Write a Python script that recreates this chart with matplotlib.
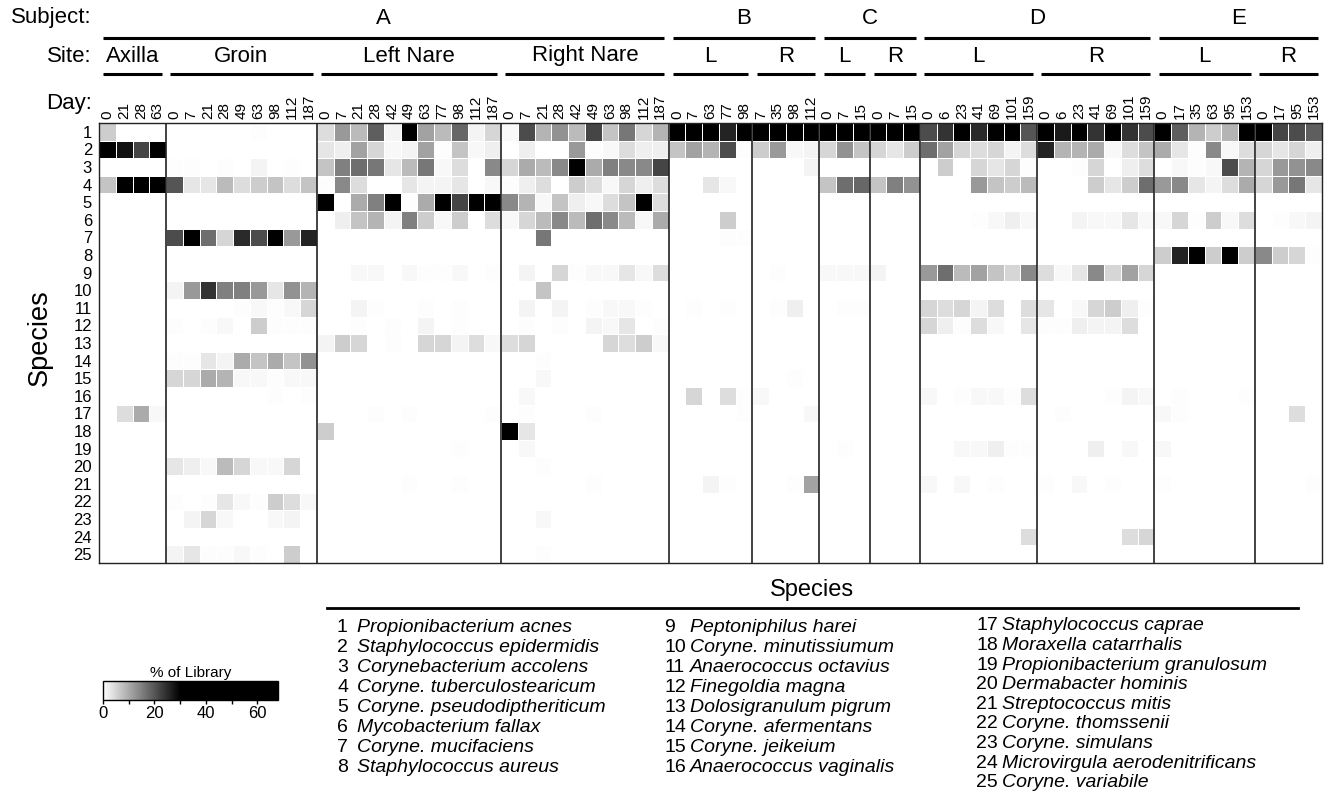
import numpy as np
import matplotlib
matplotlib.use("Agg")
import matplotlib.pyplot as plt
from matplotlib.colors import LinearSegmentedColormap
from matplotlib.lines import Line2D
import matplotlib.transforms as mtransforms

plt.rcParams['font.family'] = ['Liberation Sans', 'DejaVu Sans']

# sampling days for every subject/site block
a_axilla_days = [0, 21, 28, 63]
a_groin_days = [0, 7, 21, 28, 49, 63, 98, 112, 187]
a_lnare_days = [0, 7, 21, 28, 42, 49, 63, 77, 98, 112, 187]
a_rnare_days = [0, 7, 21, 28, 42, 49, 63, 98, 112, 187]
b_l_days = [0, 7, 63, 77, 98]
b_r_days = [7, 35, 98, 112]
c_l_days = [0, 7, 15]
c_r_days = [0, 7, 15]
d_l_days = [0, 6, 23, 41, 69, 101, 159]
d_r_days = [0, 6, 23, 41, 69, 101, 159]
e_l_days = [0, 17, 35, 63, 95, 153]
e_r_days = [0, 17, 95, 153]

# % of library per species (key = species number), one value per day
a_axilla = {
    1: [6, 0, 0, 0],
    2: [35, 28, 22, 35],
    4: [7, 40, 40, 40],
    17: [0, 4, 10, 1],
}
a_groin = {
    1: [0, 0, 0, 0, 0, 0.5, 0, 0, 0],
    3: [0.5, 0.5, 0, 0.5, 0, 1.5, 0, 0.5, 0],
    4: [20, 3, 3, 8, 4, 6, 7, 4, 7],
    7: [21, 40, 17, 5, 25, 21, 40, 12, 26],
    10: [1.5, 12, 24, 15, 15, 12, 3, 13, 9],
    11: [0, 0, 0, 0, 0.5, 1, 0.5, 1, 5],
    12: [0.5, 0, 0.5, 1, 0, 6, 0.5, 0.5, 0.5],
    14: [0.3, 0.3, 3, 1.5, 10, 7, 10, 7, 13],
    15: [5, 5, 10, 9, 1, 1, 0.5, 1, 1],
    16: [0, 0, 0, 0, 0, 0, 0.3, 0, 0.3],
    20: [3, 2, 1, 8, 5, 1, 1, 5, 0],
    22: [0.3, 0, 0.5, 3, 1, 0.5, 6, 4, 1],
    23: [0, 1.5, 5, 1, 0, 0, 1, 1.5, 0],
    25: [1.5, 3, 0.5, 0.5, 1, 0.5, 0, 6, 0],
}
a_lnare = {
    1: [4, 12, 8, 19, 1.5, 40, 11, 8, 18, 1.5, 5],
    2: [3, 2, 11, 5, 1, 1.5, 11, 0.5, 7, 1, 2],
    3: [7, 15, 17, 16, 3, 8, 16, 1, 4, 0, 14],
    4: [0.5, 14, 4, 0, 0, 3, 1.5, 1.5, 3, 0, 1],
    5: [40, 0, 10, 15, 40, 0.5, 10, 40, 22, 40, 40],
    6: [0, 2, 7, 9, 1.5, 15, 6, 1, 6, 0, 4],
    9: [0, 0, 1, 1, 0, 1, 0.5, 0.5, 1, 0, 0.5],
    11: [0, 0, 1.5, 0.3, 0, 0, 0.5, 0, 0.5, 0, 0],
    12: [0, 0, 0.5, 0, 0.5, 0, 1.5, 0, 0.5, 0, 0],
    13: [1.5, 6, 5, 0, 0.5, 0, 5, 5, 1.5, 4, 1],
    17: [0, 0, 0, 0.3, 0, 0.3, 0, 0, 0, 0, 0.3],
    18: [6, 0, 0, 0, 0, 0, 0, 0, 0, 0, 0],
    19: [0, 0, 0, 0, 0, 0, 0, 0, 0.3, 0, 0],
    21: [0, 0, 0, 0, 0, 0.5, 0, 0, 0.5, 0, 0],
}
a_rnare = {
    1: [1, 21, 9, 13, 8, 22, 7, 16, 5, 9],
    2: [0, 2, 0, 0, 12, 0.5, 1, 4, 2, 2],
    3: [5, 10, 8, 14, 30, 10, 15, 14, 14, 22],
    4: [0.5, 2, 4, 0, 6, 4, 1, 5, 2, 4],
    5: [14, 9, 1, 7, 2, 1, 4, 7, 40, 4],
    6: [1, 5, 8, 14, 8, 17, 14, 8, 1, 10],
    7: [0, 0, 16, 0, 0, 0, 0, 0, 0, 0],
    9: [0, 1.5, 0, 5, 0.5, 1, 1, 3, 1, 4],
    10: [0, 0, 7, 0, 0, 0, 0, 0, 0, 0],
    11: [0, 1.5, 0, 1.5, 0, 0.5, 1, 1, 0.5, 0],
    12: [0, 0.5, 0, 0.5, 0, 1.5, 1, 3, 0, 0.5],
    13: [4, 5, 0, 0, 0, 0, 5, 4, 6, 1],
    14: [0, 0, 0.5, 0, 0, 0, 0, 0, 0, 0],
    15: [0, 0, 1, 0, 0, 0, 0, 0, 0, 0],
    16: [0, 1, 0, 0, 0, 0, 0, 0, 0, 0],
    17: [0, 0.5, 0, 0, 0, 0.5, 0, 0, 0, 0],
    18: [40, 3, 0, 0, 0, 0, 0, 0, 0, 0],
    19: [0, 1, 0, 0, 0, 0, 0, 0, 0, 0],
    20: [0, 0, 0.5, 0, 0, 0, 0, 0, 0, 0],
    21: [0, 0, 0, 0, 0, 0.5, 0, 0, 0, 0],
    23: [0, 0, 1, 0, 0, 0, 0, 0, 0, 0],
    25: [0, 0, 0.5, 0, 0, 0, 0, 0, 0, 0],
}
b_l = {
    1: [40, 40, 40, 26, 40],
    2: [7, 11, 9, 21, 0.3],
    4: [0, 0, 3, 1, 0],
    6: [0, 0, 0, 6, 0],
    7: [0, 0, 0, 0.5, 0.5],
    11: [0, 0.3, 0, 0.3, 0],
    16: [0, 5, 0, 4, 0.5],
    17: [0, 0, 0, 0, 0.5],
    21: [0, 0, 1.5, 0.5, 0],
}
b_r = {
    1: [40, 40, 40, 40],
    2: [6, 12, 1, 1.5],
    3: [0, 0, 0, 1.5],
    9: [0, 0.5, 0, 0],
    11: [0, 0.3, 2, 0],
    15: [0, 0, 0.3, 0],
    16: [1, 0, 0, 0],
    17: [0, 0, 0, 1],
    21: [0, 0, 0.5, 11],
}
c_l = {
    1: [40, 40, 40],
    2: [5, 13, 7],
    4: [7, 17, 18],
    9: [1, 1, 1],
    11: [0, 0.3, 0.3],
    19: [0, 0.3, 0],
}
c_r = {
    1: [40, 40, 40],
    2: [5, 3, 6],
    4: [7, 15, 13],
    9: [1.5, 0, 0],
}
d_l = {
    1: [21, 24, 40, 25, 30, 40, 20],
    2: [17, 11, 5, 4, 5, 1.5, 4],
    3: [0, 6, 0, 5, 3, 5, 0.5],
    4: [0, 0, 0, 12, 7, 6, 8],
    6: [0, 0, 0, 0.5, 1, 2, 1],
    9: [12, 17, 8, 11, 7, 5, 14],
    11: [5, 4, 5, 1.5, 4, 0, 4],
    12: [5, 2, 0.5, 4, 1, 0, 3],
    16: [1, 0, 0.5, 1, 1, 0.5, 4],
    19: [0, 0, 1, 1, 2, 0.5, 0.5],
    21: [1, 0, 1, 0, 0.5, 0, 0],
    24: [0, 0, 0, 0, 0, 0, 4],
}
d_r = {
    1: [38, 27, 40, 24, 40, 24, 21],
    2: [26, 9, 9, 10, 1, 4, 7],
    3: [0, 0, 0.5, 5, 0, 2, 4],
    4: [0, 0, 0, 6, 3, 6, 17],
    6: [0, 0, 1.5, 1, 1, 3, 1],
    9: [4, 1, 3, 14, 5, 11, 5],
    11: [3, 0, 1, 5, 6, 2, 0.5],
    12: [0.5, 0.5, 2, 1.5, 1.5, 4, 0],
    16: [0, 0, 0, 0, 0.5, 1.5, 1],
    17: [0, 0.5, 0, 0, 0, 0, 0],
    19: [0, 0, 0, 2, 0, 1, 0],
    21: [0.5, 0, 1, 0, 0.5, 0, 0],
    24: [0, 0, 0, 0, 0, 4, 5],
}
e_l = {
    1: [40, 19, 9, 6, 9, 40],
    2: [10, 3, 0.5, 14, 1, 4],
    3: [0, 1, 0.5, 1, 21, 9],
    4: [12, 14, 3, 1.5, 4, 10],
    6: [1, 5, 0.5, 6, 1, 4],
    8: [6, 26, 40, 6, 40, 6],
    16: [0, 0.5, 0, 0, 0, 0.3],
    17: [1, 0.5, 0, 0, 0, 0],
    19: [1, 0, 0, 0, 0, 0],
    21: [0.5, 0, 0, 0, 0, 0],
}
e_r = {
    1: [40, 22, 21, 19],
    2: [5, 3, 5, 2],
    3: [5, 12, 13, 14],
    4: [5, 12, 16, 3],
    6: [0, 0.3, 1, 1.5],
    8: [14, 6, 5, 0.3],
    17: [0, 0, 4, 0],
    21: [0, 0, 0, 0.5],
}

subjects = ['A', 'B', 'C', 'D', 'E']
subject_blocks = [4, 2, 2, 2, 2]   # how many site blocks belong to each subject
sites = ['Axilla', 'Groin', 'Left Nare', 'Right Nare', 'L', 'R', 'L', 'R', 'L', 'R', 'L', 'R']
block_days = [a_axilla_days, a_groin_days, a_lnare_days, a_rnare_days, b_l_days, b_r_days,
              c_l_days, c_r_days, d_l_days, d_r_days, e_l_days, e_r_days]
block_vals = [a_axilla, a_groin, a_lnare, a_rnare, b_l, b_r, c_l, c_r, d_l, d_r, e_l, e_r]

species = ['Propionibacterium acnes', 'Staphylococcus epidermidis', 'Corynebacterium accolens',
           'Coryne. tuberculostearicum', 'Coryne. pseudodiptheriticum', 'Mycobacterium fallax',
           'Coryne. mucifaciens', 'Staphylococcus aureus', 'Peptoniphilus harei',
           'Coryne. minutissiumum', 'Anaerococcus octavius', 'Finegoldia magna',
           'Dolosigranulum pigrum', 'Coryne. afermentans', 'Coryne. jeikeium',
           'Anaerococcus vaginalis', 'Staphylococcus caprae', 'Moraxella catarrhalis',
           'Propionibacterium granulosum', 'Dermabacter hominis', 'Streptococcus mitis',
           'Coryne. thomssenii', 'Coryne. simulans', 'Microvirgula aerodenitrificans',
           'Coryne. variabile']
n_sp = len(species)

# build the species x sample matrix
cols = []
edges = [0]
for days, vals in zip(block_days, block_vals):
    blk = np.zeros((n_sp, len(days)))
    for sp, row in vals.items():
        blk[sp - 1] = row
    cols.append(blk)
    edges.append(edges[-1] + len(days))
mat = np.hstack(cols)
all_days = [d for days in block_days for d in days]
ncol = mat.shape[1]

cmap = LinearSegmentedColormap.from_list('lib', [(0, 'white'), (30 / 68, 'black'), (1, 'black')])

W, H = 1330, 794
fig = plt.figure(figsize=(W / 100, H / 100), dpi=100)

def fx(px):
    return px / W

def fy(py):
    return 1 - py / H

ax = fig.add_axes([fx(99), fy(563), fx(1322) - fx(99), fy(123) - fy(563)])
mesh = ax.pcolormesh(np.arange(ncol + 1), np.arange(n_sp + 1), mat, cmap=cmap, vmin=0, vmax=68,
                     edgecolors='white', linewidth=0.7)
ax.set_xlim(0, ncol)
ax.set_ylim(n_sp, 0)

ax.set_yticks(np.arange(n_sp) + 0.5)
ax.set_yticklabels([str(i + 1) for i in range(n_sp)], fontsize=12)
ax.tick_params(axis='y', length=0, pad=5)
ax.xaxis.tick_top()
ax.set_xticks(np.arange(ncol) + 0.5)
ax.set_xticklabels([str(d) for d in all_days], rotation=90, fontsize=11)
ax.tick_params(axis='x', length=0, pad=3)
for s in ax.spines.values():
    s.set_linewidth(1.0)
    s.set_color('#222222')

for e in edges[1:-1]:
    ax.axvline(e, color='#222222', lw=1.2)

# header brackets: sites and subjects
trans = mtransforms.blended_transform_factory(ax.transData, ax.transAxes)
y_site_line = (563 - 74) / 440
y_site_text = (563 - 56) / 440
y_subj_line = (563 - 38) / 440
y_subj_text = (563 - 18) / 440
gap = 0.25
hdr_size = 16
for i, name in enumerate(sites):
    x0, x1 = edges[i], edges[i + 1]
    ax.plot([x0 + gap, x1 - gap], [y_site_line] * 2, color='black', lw=2.2,
            transform=trans, clip_on=False, solid_capstyle='butt')
    ax.text((x0 + x1) / 2, y_site_text, name, transform=trans, ha='center', va='center',
            fontsize=hdr_size)
k = 0
for subj, nb in zip(subjects, subject_blocks):
    x0, x1 = edges[k], edges[k + nb]
    ax.plot([x0 + gap, x1 - gap], [y_subj_line] * 2, color='black', lw=2.2,
            transform=trans, clip_on=False, solid_capstyle='butt')
    ax.text((x0 + x1) / 2, y_subj_text, subj, transform=trans, ha='center', va='center',
            fontsize=hdr_size)
    k += nb

fig.text(fx(92), fy(18), 'Subject:', ha='right', va='center', fontsize=hdr_size)
fig.text(fx(92), fy(56), 'Site:', ha='right', va='center', fontsize=hdr_size)
fig.text(fx(92), fy(103), 'Day:', ha='right', va='center', fontsize=hdr_size)
fig.text(fx(40), fy(338), 'Species', rotation=90, ha='center', va='center', fontsize=19.5)

# colour scale
cax = fig.add_axes([fx(103), fy(700), fx(278) - fx(103), fy(681) - fy(700)])
cb = fig.colorbar(mesh, cax=cax, orientation='horizontal')
cb.set_ticks([0, 10, 20, 30, 40, 50, 60])
cb.set_ticklabels(['0', '', '20', '', '40', '', '60'])
cax.tick_params(labelsize=12, length=3, width=1, pad=1)
cb.outline.set_linewidth(1)
cax.set_title('% of Library', fontsize=11, pad=3)

# species key: number column, then italic name column
fig.text(fx(812), fy(590), 'Species', ha='center', va='center', fontsize=17)
fig.add_artist(Line2D([fx(327), fx(1298)], [fy(608)] * 2, color='black', lw=2))
key_size = 14
key_cols = [(range(0, 8), 337, 357, 627, 20.1),
            (range(8, 16), 664, 690, 627, 20.0),
            (range(16, 25), 976, 1002, 626, 19.6)]
for idx, xn, xs, y0, dy in key_cols:
    for j, i in enumerate(idx):
        y = y0 + j * dy
        fig.text(fx(xn), fy(y), str(i + 1), ha='left', va='center', fontsize=key_size)
        fig.text(fx(xs), fy(y), species[i], ha='left', va='center', fontsize=key_size,
                 style='italic')

fig.savefig('out.png', dpi=100)
